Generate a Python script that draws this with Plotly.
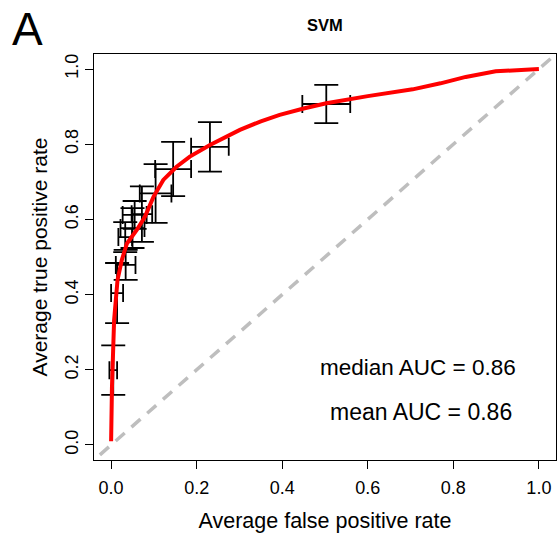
import plotly.graph_objects as go

# Averaged ROC curve (SVM)
fpr_curve = [0.0, 0.002, 0.007, 0.015, 0.025, 0.037, 0.06, 0.079, 0.099, 0.122,
             0.153, 0.184, 0.231, 0.301, 0.35, 0.394, 0.45, 0.503, 0.6, 0.705, 0.77, 0.829,
             0.899, 0.95, 1.0]
tpr_curve = [0.01, 0.155, 0.332, 0.439, 0.492, 0.536, 0.572, 0.607, 0.66, 0.705,
             0.74, 0.767, 0.798, 0.838, 0.861, 0.878, 0.895, 0.909, 0.928, 0.946, 0.962, 0.979,
             0.994, 0.998, 1.0]

# Error bar points (threshold averaging)
eb_fpr = [0.005, 0.014, 0.034, 0.033, 0.050, 0.055, 0.072, 0.104, 0.145, 0.231, 0.503]
eb_tpr = [0.199, 0.404, 0.479, 0.553, 0.577, 0.612, 0.614, 0.669, 0.734, 0.793, 0.907]
eb_fpr_err = [0.009, 0.014, 0.023, 0.016, 0.028, 0.028, 0.024, 0.037, 0.042, 0.044, 0.056]
eb_tpr_err = [0.066, 0.080, 0.040, 0.040, 0.053, 0.037, 0.074, 0.078, 0.072, 0.066, 0.051]

diag = [-0.1, 1.1]
ticks = [0, 0.2, 0.4, 0.6, 0.8, 1.0]
tick_text = ["0.0", "0.2", "0.4", "0.6", "0.8", "1.0"]

FONT = "Liberation Sans, Arial, Helvetica, sans-serif"

fig = go.Figure()
fig.add_trace(go.Scatter(x=diag, y=diag, mode="lines",
                         line=dict(color="#BEBEBE", width=3.5, dash="12px,9px"),
                         hoverinfo="skip", showlegend=False))
fig.add_trace(go.Scatter(x=eb_fpr, y=eb_tpr, mode="markers",
                         marker=dict(size=2, opacity=0),
                         error_x=dict(type="data", array=eb_fpr_err, visible=True,
                                      color="black", thickness=1.8, width=9),
                         error_y=dict(type="data", array=eb_tpr_err, visible=True,
                                      color="black", thickness=1.8, width=12),
                         showlegend=False))
fig.add_trace(go.Scatter(x=fpr_curve, y=tpr_curve, mode="lines",
                         line=dict(color="#FF0000", width=4),
                         showlegend=False))

axis_common = dict(showline=True, linecolor="black", linewidth=1.3, mirror=True,
                   ticks="outside", ticklen=8, tickwidth=1.3, tickcolor="black",
                   tickvals=ticks, ticktext=tick_text, showgrid=False, zeroline=False,
                   tickfont=dict(family=FONT, size=18, color="black"),
                   range=[-0.04, 1.04], automargin=False)

fig.update_layout(
    width=558, height=541,
    margin=dict(l=94, r=2, t=54, b=81),
    plot_bgcolor="white", paper_bgcolor="white",
    xaxis=dict(**axis_common, ticklabelstandoff=3,
               title=dict(text="Average false positive rate", standoff=16,
                          font=dict(family=FONT, size=21.5, color="black"))),
    yaxis=dict(**axis_common, tickangle=-90,
               title=dict(text="Average true positive rate", standoff=8,
                          font=dict(family=FONT, size=21, color="black"))),
    annotations=[
        dict(text="<b>SVM</b>", x=0.5, xref="paper", y=1.0714, yref="paper",
             yanchor="middle", showarrow=False,
             font=dict(family=FONT, size=16.5, color="black")),
        dict(text="A", xref="paper", yref="paper", x=-0.143, y=1.131,
             xanchor="center", yanchor="top",
             showarrow=False, font=dict(family=FONT, size=46, color="black")),
        dict(text="median AUC = 0.86", x=0.717, y=0.205, xref="x", yref="y",
             showarrow=False, font=dict(family=FONT, size=22.5, color="black")),
        dict(text="mean AUC = 0.86", x=0.725, y=0.088, xref="x", yref="y",
             showarrow=False, font=dict(family=FONT, size=23, color="black")),
    ],
)
fig.write_html("out.html", config={"displayModeBar": False},
               post_script="document.body.style.margin='0';document.body.style.padding='0';"
                           "document.documentElement.style.overflow='hidden';")
